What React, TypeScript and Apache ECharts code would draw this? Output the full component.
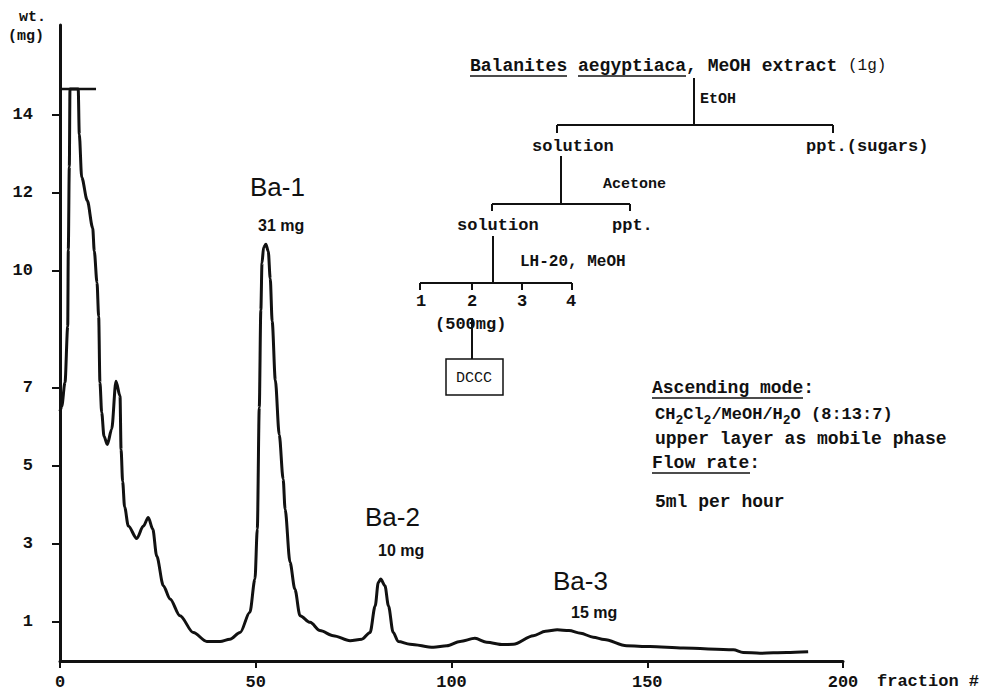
import React, { useEffect, useRef } from "react";
import * as echarts from "echarts";

// ---- data ----
const fractions = [
  0, 0.43, 1.28, 1.97, 2.12, 2.38, 2.55, 4.65, 4.93, 5.54,
  6.97, 8.35, 8.76, 9.45, 9.88, 10.2, 10.65, 11.24, 12.08, 13.2,
  14.3, 15.33, 15.6, 16.0, 16.5, 17.45, 19.6, 21.3, 22.55, 23.7,
  24.7, 26.4, 28.1, 30.65, 34.05, 37.5, 40.9, 43.4, 46, 48.5,
  49.8, 50.4, 50.9, 51.3, 51.6, 52.0, 52.6, 53.2, 53.7, 54.2,
  55.0, 56.0, 57.0, 57.5, 58.75, 60, 61.3, 63.9, 66.4, 69.8,
  74.1, 77.1, 79.2, 80.5, 81.3, 81.9, 83.0, 83.9, 85.1, 86.4,
  89.4, 95.4, 98.8, 102.2, 106.0, 109.0, 113.2, 115.8, 120.9, 124,
  127, 130, 133, 136.2, 139, 144.7, 150.7, 159.2, 172, 174.5,
  178.8, 185.6, 191.1,
];
const weights = [
  6.4, 6.52, 7.14, 8.57, 10.54, 12.67, 14.66, 14.66, 13.5, 12.4,
  11.8, 11.1, 10.5, 9.7, 8.83, 7.14, 6.37, 5.76, 5.55, 5.94,
  7.17, 6.79, 5.42, 4.6, 3.95, 3.46, 3.14, 3.46, 3.68, 3.38,
  2.69, 1.93, 1.59, 1.16, 0.73, 0.5, 0.5, 0.56, 0.73, 1.25,
  2.1, 3.38, 6.5, 9.0, 10.2, 10.6, 10.68, 10.5, 9.8, 8.7,
  7.2, 5.8, 4.66, 3.89, 2.53, 1.84, 1.16, 0.99, 0.78, 0.65,
  0.52, 0.56, 0.73, 1.41, 2.01, 2.1, 1.93, 1.41, 0.73, 0.5,
  0.43, 0.35, 0.39, 0.5, 0.58, 0.48, 0.42, 0.43, 0.65, 0.76,
  0.8, 0.78, 0.71, 0.61, 0.55, 0.39, 0.37, 0.33, 0.29, 0.22,
  0.2, 0.22, 0.24,
];
// off-scale cut-off bar at the top of the first peak
const capFractions = [0, 9.2];
const capWeights = [14.66, 14.66];

const yTickValues = [1, 3, 5, 7, 10, 12, 14];
const xTickInterval = 50;
const xMin = 0;
const xMax = 200;
const yMax = 16.3;

const peakNames = ["Ba-1", "Ba-2", "Ba-3"];
const peakYields = ["31 mg", "10 mg", "15 mg"];

const MONO = '"Liberation Mono", "DejaVu Sans Mono", monospace';
const SANS = '"Liberation Sans", Arial, sans-serif';

function txt(text: string, x: number, y: number, extra: any = {}) {
  return {
    type: "text",
    x,
    y,
    silent: true,
    style: {
      text,
      fill: "#111",
      font: `bold 17px ${MONO}`,
      textAlign: "left",
      textVerticalAlign: "middle",
      verticalAlign: "middle",
      ...extra,
    },
  };
}

function ln(x1: number, y1: number, x2: number, y2: number, w = 2) {
  return {
    type: "line",
    silent: true,
    shape: { x1, y1, x2, y2 },
    style: { stroke: "#111", lineWidth: w },
  };
}

export default function App() {
  const ref = useRef<HTMLDivElement>(null);

  useEffect(() => {
    if (!ref.current) return;
    const chart = echarts.init(ref.current, undefined, { renderer: "svg" });

    const curve = fractions.map((f, i) => [f, weights[i]]);
    const cap = capFractions.map((f, i) => [f, capWeights[i]]);

    const peakLabelPos = [
      { nx: 250, ny: 187, yx: 258, yy: 225 },
      { nx: 365, ny: 517, yx: 378, yy: 550 },
      { nx: 553, ny: 581, yx: 571, yy: 612 },
    ];

    const R = `bold 18px ${MONO}`;

    const graphics: any[] = [
      // axis names
      txt("wt.", 19, 17, { font: `bold 15px ${MONO}` }),
      txt("(mg)", 8, 36, { font: `bold 15px ${MONO}` }),
      txt("fraction #", 877, 681, { font: `bold 17px ${MONO}` }),
      // flow chart
      txt("Balanites aegyptiaca, MeOH extract", 470, 66, { font: R }),
      txt("(1g)", 848, 66, { font: `16px ${MONO}` }),
      ln(470, 76, 567, 76, 1.5),
      ln(578, 76, 686, 76, 1.5),
      ln(694, 78, 694, 125),
      txt("EtOH", 700, 99, { font: `bold 15px ${MONO}` }),
      ln(557, 125, 833, 125),
      ln(557, 125, 557, 133),
      ln(833, 125, 833, 133),
      txt("solution", 532, 146),
      txt("ppt.(sugars)", 806, 146),
      ln(561, 156, 561, 204),
      txt("Acetone", 603, 184, { font: `bold 15px ${MONO}` }),
      ln(492, 204, 630, 204),
      ln(492, 204, 492, 211),
      ln(630, 204, 630, 211),
      txt("solution", 457, 225),
      txt("ppt.", 612, 225),
      ln(493, 236, 493, 283),
      txt("LH-20, MeOH", 520, 262, { font: `bold 16px ${MONO}` }),
      ln(420, 283, 572, 283),
      ln(420, 283, 420, 290),
      ln(472, 283, 472, 290),
      ln(522, 283, 522, 290),
      ln(572, 283, 572, 290),
      txt("1", 421, 301, { textAlign: "center" }),
      txt("2", 472, 301, { textAlign: "center" }),
      txt("3", 522, 301, { textAlign: "center" }),
      txt("4", 571, 301, { textAlign: "center" }),
      txt("(500mg)", 435, 324),
      ln(472, 318, 472, 359),
      {
        type: "rect",
        silent: true,
        shape: { x: 446, y: 359, width: 57, height: 36 },
        style: { fill: "none", stroke: "#111", lineWidth: 1.5 },
      },
      txt("DCCC", 474, 378, { textAlign: "center", font: `15px ${MONO}` }),
      // conditions
      txt("Ascending mode:", 652, 388, { font: R }),
      ln(652, 398, 803, 398, 1.5),
      {
        type: "text",
        x: 655,
        y: 414,
        silent: true,
        style: {
          text: "{n|CH}{s|2}{n|Cl}{s|2}{n|/MeOH/H}{s|2}{n|O (8:13:7)}",
          textAlign: "left",
          textVerticalAlign: "middle",
          verticalAlign: "middle",
          fill: "#111",
          rich: {
            n: { font: `bold 17px ${MONO}`, fill: "#111", lineHeight: 20 },
            s: { font: `bold 13px ${MONO}`, fill: "#111", lineHeight: 20, padding: [12, 0, 0, 0] },
          },
        },
      },
      txt("upper layer as mobile phase", 655, 439, { font: R }),
      txt("Flow rate:", 652, 463, { font: R }),
      ln(652, 473, 750, 473, 1.5),
      txt("5ml per hour", 655, 502, { font: R }),
    ];

    peakNames.forEach((name, i) => {
      const p = peakLabelPos[i];
      graphics.push(txt(name, p.nx, p.ny, { font: `26px ${SANS}`, fill: "#111" }));
      graphics.push(txt(peakYields[i], p.yx, p.yy, { font: `bold 16px ${SANS}`, fill: "#111" }));
    });

    chart.setOption({
      animation: false,
      backgroundColor: "#fff",
      grid: { left: 60, right: 161, top: 25, bottom: 31, containLabel: false, outerBoundsMode: "none" },
      xAxis: {
        type: "value",
        min: xMin,
        max: xMax,
        interval: xTickInterval,
        axisLine: { show: true, onZero: false, lineStyle: { color: "#111", width: 3 } },
        axisTick: { show: true, length: 7, lineStyle: { color: "#111", width: 2 } },
        axisLabel: {
          margin: 13,
          color: "#111",
          fontFamily: MONO,
          fontSize: 17,
          fontWeight: "bold",
          showMinLabel: true,
          showMaxLabel: true,
        },
        splitLine: { show: false },
      },
      yAxis: {
        type: "value",
        min: 0,
        max: yMax,
        axisLine: { show: true, onZero: false, lineStyle: { color: "#111", width: 3 } },
        axisTick: {
          show: true,
          length: 8,
          customValues: yTickValues,
          lineStyle: { color: "#111", width: 2 },
        },
        axisLabel: {
          customValues: yTickValues,
          margin: 27,
          color: "#111",
          fontFamily: MONO,
          fontSize: 17,
          fontWeight: "bold",
        },
        splitLine: { show: false },
      },
      series: [
        {
          type: "line",
          data: curve,
          showSymbol: false,
          symbol: "none",
          smooth: 0.3,
          smoothMonotone: "x",
          lineStyle: { color: "#111", width: 3 },
          z: 3,
        },
        {
          type: "line",
          data: cap,
          showSymbol: false,
          symbol: "none",
          lineStyle: { color: "#111", width: 2.5 },
          z: 3,
        },
      ],
      graphic: graphics,
    });

    return () => chart.dispose();
  }, []);

  return (
    <div
      ref={ref}
      style={{ position: "absolute", left: 0, top: 0, width: 1004, height: 692, background: "#fff" }}
    />
  );
}
